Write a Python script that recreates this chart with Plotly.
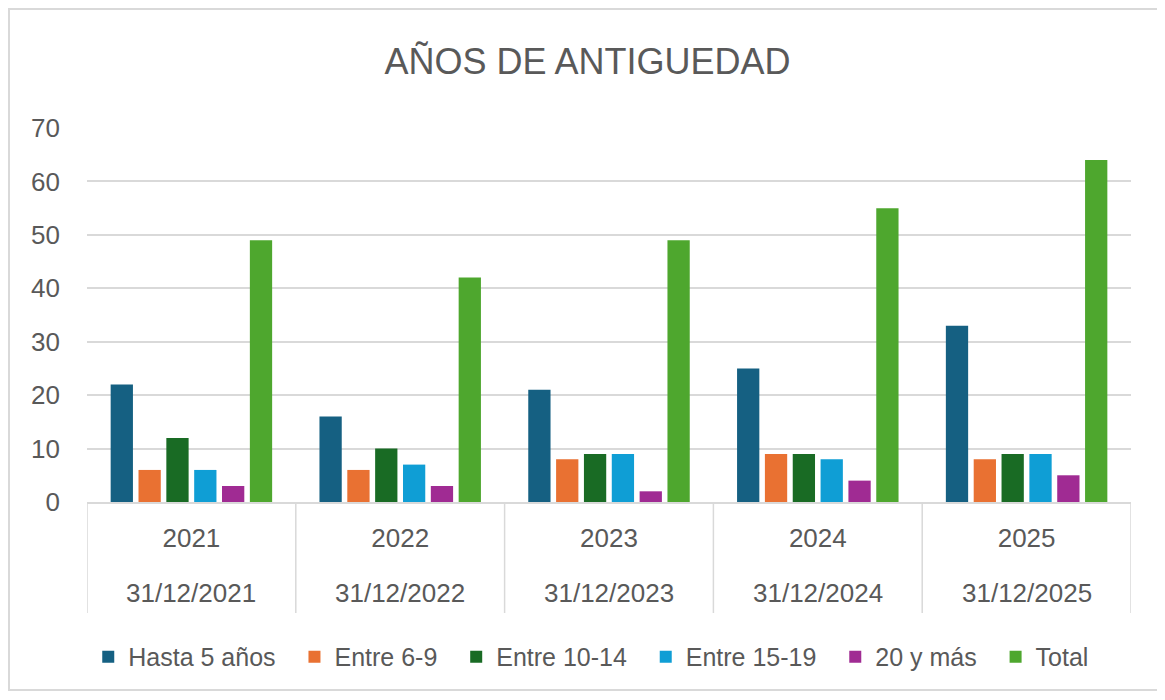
import plotly.graph_objects as go

years = ["2021", "2022", "2023", "2024", "2025"]
dates = ["31/12/2021", "31/12/2022", "31/12/2023", "31/12/2024", "31/12/2025"]

series_names = ["Hasta 5 años", "Entre 6-9", "Entre 10-14", "Entre 15-19", "20 y más", "Total"]
hasta_5 = [22, 16, 21, 25, 33]
entre_6_9 = [6, 6, 8, 9, 8]
entre_10_14 = [12, 10, 9, 9, 9]
entre_15_19 = [6, 7, 9, 8, 9]
veinte_mas = [3, 3, 2, 4, 5]
total = [49, 42, 49, 55, 64]

colors = ["#156082", "#E97132", "#196B24", "#0F9ED5", "#A02B93", "#4EA72E"]
values = [hasta_5, entre_6_9, entre_10_14, entre_15_19, veinte_mas, total]

FONT = "'Liberation Sans', Arial, sans-serif"
GREY = "#595959"
LINE = "#D9D9D9"

# the page body adds an 8px offset, so the figure is sized to the rest of the window
W, H = 1152, 690
ML, MR, MT, MB = 79, 29, 120, 196
PW, PH = W - ML - MR, H - MT - MB

fig = go.Figure()
for i, (name, vals, c) in enumerate(zip(series_names, values, colors)):
    # non-breaking spaces widen the gap between legend entries like Excel does
    label = name if i == len(series_names) - 1 else name + "\u00a0\u00a0"
    fig.add_trace(go.Bar(
        x=years, y=vals, name=label,
        marker=dict(color=c, line_width=0),
        hovertemplate=name + ": %{y}<extra></extra>",
    ))

# category dividers down through the labels
for i in range(len(years) + 1):
    fig.add_shape(type="line", xref="x", yref="paper",
                  x0=i - 0.5, x1=i - 0.5, y0=0, y1=-111 / PH,
                  line=dict(color=LINE, width=1.5))

# second row of category labels (dates); category index, since "2021" would read as a number
for i, d in enumerate(dates):
    fig.add_annotation(x=i, xref="x", y=-91 / PH, yref="paper", yanchor="middle",
                       text=d, showarrow=False, font=dict(family=FONT, size=26, color=GREY))

# chart frame
fig.add_shape(type="rect", xref="paper", yref="paper",
              x0=(1 - ML) / PW, x1=(1150 - ML) / PW,
              y0=(PH + MT - 682) / PH, y1=(PH + MT - 1) / PH,
              line=dict(color=LINE, width=2), fillcolor="rgba(0,0,0,0)", layer="below")

fig.update_layout(
    title=dict(text="AÑOS DE ANTIGUEDAD", x=0.503, xanchor="center", y=1 - 53 / H, yanchor="middle",
               font=dict(family=FONT, size=36, color=GREY)),
    font=dict(family=FONT, color=GREY, size=25),
    paper_bgcolor="white",
    plot_bgcolor="white",
    barmode="group",
    bargap=0.2,
    bargroupgap=0.2,
    width=W, height=H,
    margin=dict(l=ML, r=MR, t=MT, b=MB, autoexpand=False),
    xaxis=dict(
        type="category", range=[-0.5, 4.5],
        showline=True, linecolor=LINE, linewidth=1.5,
        tickfont=dict(size=26, color=GREY), ticks="", ticklabelstandoff=12,
        showgrid=False,
    ),
    yaxis=dict(
        range=[0, 70], dtick=10, showgrid=True, gridcolor=LINE, gridwidth=1.5,
        zeroline=False, tickfont=dict(size=26, color=GREY), ticklabelstandoff=26,
    ),
    legend=dict(orientation="h", x=0.483, xanchor="center", y=-0.4144, yanchor="middle",
                font=dict(size=25, color=GREY), traceorder="normal"),
    showlegend=True,
)

fig.write_html("out.html")
